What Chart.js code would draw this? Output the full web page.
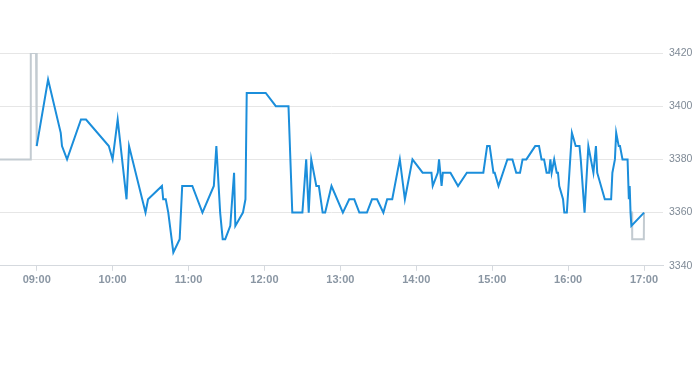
<!DOCTYPE html>
<html>
<head>
<meta charset="utf-8">
<script src="https://cdn.jsdelivr.net/npm/chart.js@4.4.1/dist/chart.umd.min.js"></script>
<style>
  body { margin: 0; background: #fff; }
  #wrap { position: relative; width: 693px; height: 290px; }
</style>
</head>
<body>
<div id="wrap"><canvas id="mycanvas"></canvas></div>
<script>
// price line (blue)
var times = [
  "09:00","09:09","09:19","09:20","09:24","09:35","09:39","09:57","10:00","10:04",
  "10:11","10:13","10:26","10:28","10:39","10:40","10:42","10:44","10:48","10:53",
  "10:55","11:03","11:11","11:20","11:22","11:25","11:27","11:29","11:33","11:36",
  "11:37","11:43","11:45","11:46","12:01","12:09","12:19","12:22","12:30","12:33",
  "12:35","12:37","12:41","12:43","12:46","12:48","12:53","13:02","13:07","13:11",
  "13:15","13:21","13:25","13:29","13:34","13:37","13:41","13:47","13:51","13:57",
  "14:05","14:12","14:13","14:17","14:18","14:20","14:21","14:27","14:33","14:40",
  "14:53","14:56","14:58","15:01","15:02","15:05","15:12","15:16","15:19","15:22",
  "15:24","15:27","15:34","15:37","15:39","15:41","15:43","15:45","15:46","15:47",
  "15:49","15:51","15:52","15:53","15:56","15:57","15:59","16:03","16:06","16:09",
  "16:10","16:13","16:16","16:20","16:22","16:23","16:29","16:34","16:35","16:37",
  "16:38","16:40","16:41","16:43","16:47","16:48","16:48:40","16:49:20","16:50","17:00"
];
var prices = [
  3385,3410,3390,3385,3380,3395,3395,3385,3380,3395,
  3365,3385,3360,3365,3370,3365,3365,3360,3345,3350,
  3370,3370,3360,3370,3385,3360,3350,3350,3355,3375,
  3355,3360,3365,3405,3405,3400,3400,3360,3360,3380,
  3360,3380,3370,3370,3360,3360,3370,3360,3365,3365,
  3360,3360,3365,3365,3360,3365,3365,3380,3365,3380,
  3375,3375,3370,3375,3380,3370,3375,3375,3370,3375,
  3375,3385,3385,3375,3375,3370,3380,3380,3375,3375,
  3380,3380,3385,3385,3380,3380,3375,3375,3380,3375,
  3380,3375,3375,3370,3365,3360,3360,3390,3385,3385,
  3380,3360,3385,3375,3385,3375,3365,3365,3375,3380,
  3390,3385,3385,3380,3380,3365,3370,3360,3355,3360
];

// grey line, only the parts that show outside the blue one
var greyTimesA = ["08:31","08:55","08:55:20","08:59:30","09:00"];
var greyValuesA = [3380,3380,3420,3420,3385];
var greyTimesB = ["16:49:20","16:50:30","16:50:40","16:59:50","17:00"];
var greyValuesB = [3360,3360,3350,3350,3360];

var yTicks = [3340,3360,3380,3400,3420];

function toMin(s) {
  var p = s.split(":");
  return +p[0] * 60 + +p[1] + (p[2] ? +p[2] / 60 : 0);
}
function pad(n) { return (n < 10 ? "0" : "") + n; }

var blue = [];
for (var i = 0; i < times.length; i++) {
  blue.push({ x: toMin(times[i]), y: prices[i] });
}
var grey = [];
for (var i = 0; i < greyTimesA.length; i++) grey.push({ x: toMin(greyTimesA[i]), y: greyValuesA[i] });
grey.push({ x: 780, y: null });
for (var i = 0; i < greyTimesB.length; i++) grey.push({ x: toMin(greyTimesB[i]), y: greyValuesB[i] });

var ctx = document.getElementById("mycanvas");
var chart = new Chart(ctx, {
  type: 'line',
  data: {
    datasets: [
      {
        data: blue,
        borderColor: '#1b8edb',
        borderWidth: 2,
        pointRadius: 0,
        tension: 0,
        fill: false,
        order: 0
      },
      {
        data: grey,
        borderColor: '#c3cbd1',
        borderWidth: 2,
        pointRadius: 0,
        tension: 0,
        fill: false,
        spanGaps: false,
        order: 1
      }
    ]
  },
  options: {
    responsive: true,
    maintainAspectRatio: false,
    animation: false,
    layout: { padding: { top: 53, left: 0, right: 0, bottom: 0 } },
    plugins: { legend: { display: false }, tooltip: { enabled: false } },
    scales: {
      x: {
        type: 'linear',
        min: 511,
        max: 1035,
        grid: { drawOnChartArea: false, color: '#d5d9de', tickLength: 5 },
        border: { color: '#d5d9de' },
        ticks: {
          stepSize: 60,
          includeBounds: false,
          padding: 3,
          color: '#8a96a3',
          font: { family: 'Liberation Sans, Arial, sans-serif', size: 11, weight: 'bold' },
          maxRotation: 0,
          callback: function(v) { return pad(Math.floor(v / 60)) + ":" + pad(v % 60); }
        },
        afterBuildTicks: function(axis) {
          axis.ticks = axis.ticks.filter(function(t) { return t.value % 60 === 0; });
        }
      },
      y: {
        position: 'right',
        min: 3340,
        max: 3420,
        grid: { color: '#e6e6e6', drawTicks: false },
        border: { display: false },
        ticks: {
          stepSize: 20,
          padding: 6,
          color: '#7f8a96',
          font: { family: 'Liberation Sans, Arial, sans-serif', size: 10.5 },
          callback: function(v) { return String(v); }
        },
        afterBuildTicks: function(axis) {
          axis.ticks = yTicks.map(function(v) { return { value: v }; });
        },
        afterFit: function(axis) { axis.width = 30; }
      }
    }
  }
});
</script>
</body>
</html>
